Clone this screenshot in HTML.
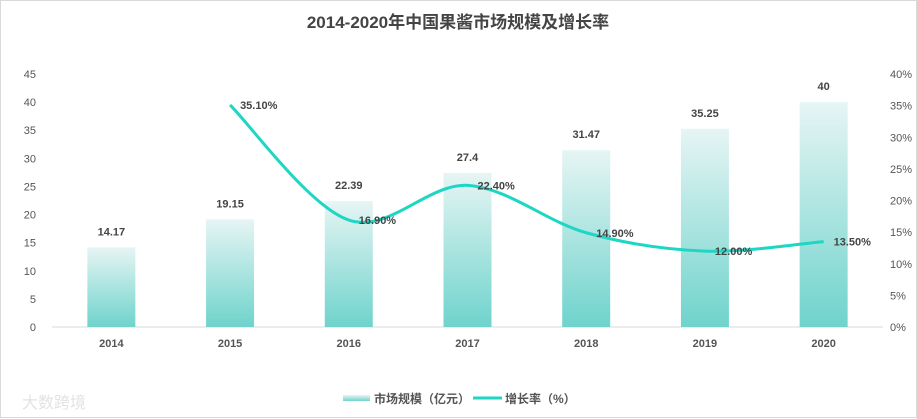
<!DOCTYPE html>
<html><head><meta charset="utf-8"><style>
body{margin:0;background:#fff}
svg{display:block;font-family:"Liberation Sans","Noto Sans CJK SC",sans-serif}
</style></head><body>
<svg width="917" height="419">
<defs><linearGradient id="bg" x1="0" y1="0" x2="0" y2="1"><stop offset="0" stop-color="#e6f5f4"/><stop offset="1" stop-color="#6fd3cc"/></linearGradient></defs>
<rect x="0.5" y="0.5" width="916" height="417" fill="#fff" stroke="#d9d9d9"/>
<text x="458" y="28" text-anchor="middle" font-size="17" font-weight="bold" fill="#444">2014-2020年中国果酱市场规模及增长率</text>
<g id="axes"></g><g id="bars"></g><g id="line"></g>
<g>
<rect x="343" y="395" width="27" height="6" fill="url(#bg)"/>
<text x="374" y="403" font-size="12" font-weight="bold" fill="#555">市场规模（亿元）</text>
<line x1="473" y1="398" x2="502" y2="398" stroke="#1ed6c4" stroke-width="3"/>
<text x="505" y="403" font-size="12" font-weight="bold" fill="#555">增长率（%）</text>
</g>
<text x="22" y="408" font-size="16" fill="#e3e3e3">大数跨境</text>
</svg>
<script>
const categories=["2014","2015","2016","2017","2018","2019","2020"];
const marketSize=[14.17,19.15,22.39,27.4,31.47,35.25,40];
const growth=[null,35.10,16.90,22.40,14.90,12.00,13.50];
const leftTicks=[0,5,10,15,20,25,30,35,40,45];
const rightTicks=[0,5,10,15,20,25,30,35,40];
const NS="http://www.w3.org/2000/svg";
const x0=52,x1=883,yb=327,yt=74;
const step=(x1-x0)/categories.length;
const xs=i=>x0+step*(i+0.5);
const yL=v=>yb-(v/45)*(yb-yt);
const yR=v=>yb-(v/40)*(yb-yt);
function mk(tag,attrs,parent,text){const e=document.createElementNS(NS,tag);for(const k in attrs)e.setAttribute(k,attrs[k]);if(text!=null)e.textContent=text;document.getElementById(parent).appendChild(e);return e;}
let e;
e=mk("line",{x1:x0,x2:x1,y1:yb,y2:yb,stroke:"#d9d9d9"},"axes");


leftTicks.forEach(v=>{e=mk("text",{x:36,y:yL(v)+4,"text-anchor":"end","font-size":11,fill:"#555"},"axes",v);

});
rightTicks.forEach(v=>{e=mk("text",{x:890,y:yR(v)+4,"font-size":11,fill:"#555"},"axes",v+"%");

});
categories.forEach((c,i)=>{e=mk("text",{x:xs(i),y:347,"text-anchor":"middle","font-size":11,"font-weight":"bold",fill:"#555"},"axes",c);

});
marketSize.forEach((v,i)=>{const bw=48;
e=mk("rect",{x:xs(i)-bw/2,y:yL(v),width:bw,height:yb-yL(v),fill:"url(#bg)"},"bars");


e=mk("text",{x:xs(i),y:yL(v)-12,"text-anchor":"middle","font-size":11,"font-weight":"bold",fill:"#444"},"bars",v);

});
const pts=[];growth.forEach((g,i)=>{if(g!=null)pts.push([xs(i),yR(g),g]);});
let d="M"+pts[0][0]+","+pts[0][1];
for(let i=0;i<pts.length-1;i++){const p0=pts[i-1]||pts[i],p1=pts[i],p2=pts[i+1],p3=pts[i+2]||p2,t=6;
d+=" C"+(p1[0]+(p2[0]-p0[0])/t)+","+(p1[1]+(p2[1]-p0[1])/t)+" "+(p2[0]-(p3[0]-p1[0])/t)+","+(p2[1]-(p3[1]-p1[1])/t)+" "+p2[0]+","+p2[1];}
e=mk("path",{d:d,fill:"none",stroke:"#1ed6c4","stroke-width":3},"line");


pts.forEach(p=>{e=mk("text",{x:p[0]+10,y:p[1]+4,"font-size":11,"font-weight":"bold",fill:"#444"},"line",p[2].toFixed(2)+"%");

});
</script>
</body></html>
